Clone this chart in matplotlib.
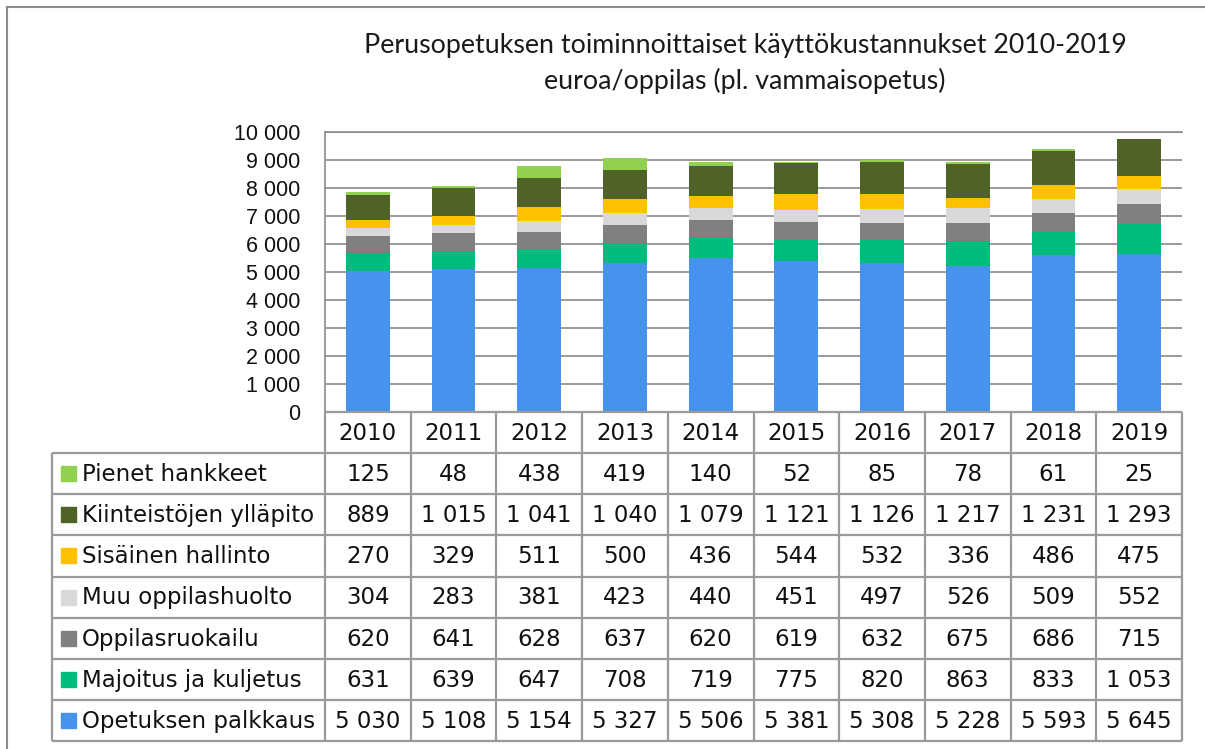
import matplotlib.pyplot as plt
from matplotlib.patches import Rectangle
from matplotlib.lines import Line2D
import numpy as np

# Data (euroa/oppilas), series listed bottom-up as stacked in the bars
years = [2010, 2011, 2012, 2013, 2014, 2015, 2016, 2017, 2018, 2019]
opetuksen_palkkaus = [5030, 5108, 5154, 5327, 5506, 5381, 5308, 5228, 5593, 5645]
majoitus_kuljetus = [631, 639, 647, 708, 719, 775, 820, 863, 833, 1053]
oppilasruokailu = [620, 641, 628, 637, 620, 619, 632, 675, 686, 715]
muu_oppilashuolto = [304, 283, 381, 423, 440, 451, 497, 526, 509, 552]
sisainen_hallinto = [270, 329, 511, 500, 436, 544, 532, 336, 486, 475]
kiinteistot = [889, 1015, 1041, 1040, 1079, 1121, 1126, 1217, 1231, 1293]
pienet_hankkeet = [125, 48, 438, 419, 140, 52, 85, 78, 61, 25]

series = [
    ('Opetuksen palkkaus', opetuksen_palkkaus, '#4593EC'),
    ('Majoitus ja kuljetus', majoitus_kuljetus, '#00BC7C'),
    ('Oppilasruokailu', oppilasruokailu, '#808080'),
    ('Muu oppilashuolto', muu_oppilashuolto, '#D9D9D9'),
    ('Sisäinen hallinto', sisainen_hallinto, '#FFC000'),
    ('Kiinteistöjen ylläpito', kiinteistot, '#4F6228'),
    ('Pienet hankkeet', pienet_hankkeet, '#92D050'),
]

title1 = 'Perusopetuksen toiminnoittaiset käyttökustannukset 2010-2019'
title2 = 'euroa/oppilas (pl. vammaisopetus)'

W, H = 1205, 749
grid_col = '#8a8a8a'
table_col = '#9a9a9a'


def fmt(v):
    return f'{v:,}'.replace(',', ' ')


fig = plt.figure(figsize=(W / 100, H / 100), dpi=100)

# outer frame of the chart object
fig.add_artist(Line2D([6.5 / W, 6.5 / W], [0, 1 - 7 / H], color='#8c8c8c', lw=1.5))
fig.add_artist(Line2D([6.5 / W, 1], [1 - 7 / H, 1 - 7 / H], color='#8c8c8c', lw=1.5))

# bar chart
ax = fig.add_axes([325 / W, 1 - 412 / H, (1182 - 325) / W, (412 - 132) / H])
x = np.arange(len(years))
bottom = np.zeros(len(years))
for name, vals, color in series:
    ax.bar(x, vals, 0.51, bottom=bottom, color=color, edgecolor='none')
    bottom += np.array(vals)

ax.set_xlim(-0.5, len(years) - 0.5)
ax.set_ylim(0, 10000)
yt = list(range(0, 10001, 1000))
ax.set_yticks(yt)
ax.set_yticklabels([fmt(v) for v in yt], family='Liberation Sans', fontsize=15.5, color='#111111')
ax.set_xticks([])
ax.tick_params(axis='y', length=0, pad=18)
ax.grid(axis='y', color=grid_col, lw=1.2)
ax.set_axisbelow(True)
for s in ['right', 'bottom']:
    ax.spines[s].set_visible(False)
ax.spines['left'].set_color(grid_col)
ax.spines['top'].set_color(grid_col)
ax.spines['left'].set_linewidth(1.2)
ax.spines['top'].set_linewidth(1.2)

# data table under the bars
tax = fig.add_axes([52 / W, 1 - 741 / H, (1182 - 52) / W, (741 - 412) / H])
tax.axis('off')
colw = (1182 - 325) / 10
lab = 273 / colw
n_rows = len(series)
tax.set_xlim(-lab, len(years))
tax.set_ylim(n_rows + 1, 0)

tax.hlines(range(1, n_rows + 2), -lab, len(years), color=table_col, lw=1.6, clip_on=False)
tax.hlines(0, 0, len(years), color=table_col, lw=1.6, clip_on=False)
tax.vlines(-lab, 1, n_rows + 1, color=table_col, lw=1.6, clip_on=False)
tax.vlines(range(len(years) + 1), 0, n_rows + 1, color=table_col, lw=1.6, clip_on=False)

tfont = dict(family='DejaVu Sans', fontsize=16.5, color='#111111')
for i, yr in enumerate(years):
    tax.text(i + 0.5, 0.52, str(yr), ha='center', va='center', **tfont)

for r, (name, vals, color) in enumerate(reversed(series)):
    yc = r + 1.5
    sq_h = 15 / 41.1
    tax.add_patch(Rectangle((-lab + 9 / colw, yc - sq_h / 2), 15 / colw, sq_h, color=color, clip_on=False))
    tax.text(-lab + 30 / colw, yc + 0.02, name, ha='left', va='center', **tfont)
    for i, v in enumerate(vals):
        tax.text(i + 0.5, yc + 0.02, fmt(v), ha='center', va='center', **tfont)

# title
fig.text(745 / W, 1 - 46 / H, title1, ha='center', va='center', family='Lato', fontsize=19.3, color='#1a1a1a')
fig.text(745 / W, 1 - 81 / H, title2, ha='center', va='center', family='Lato', fontsize=19.3, color='#1a1a1a')

fig.savefig('out.png', dpi=100)
